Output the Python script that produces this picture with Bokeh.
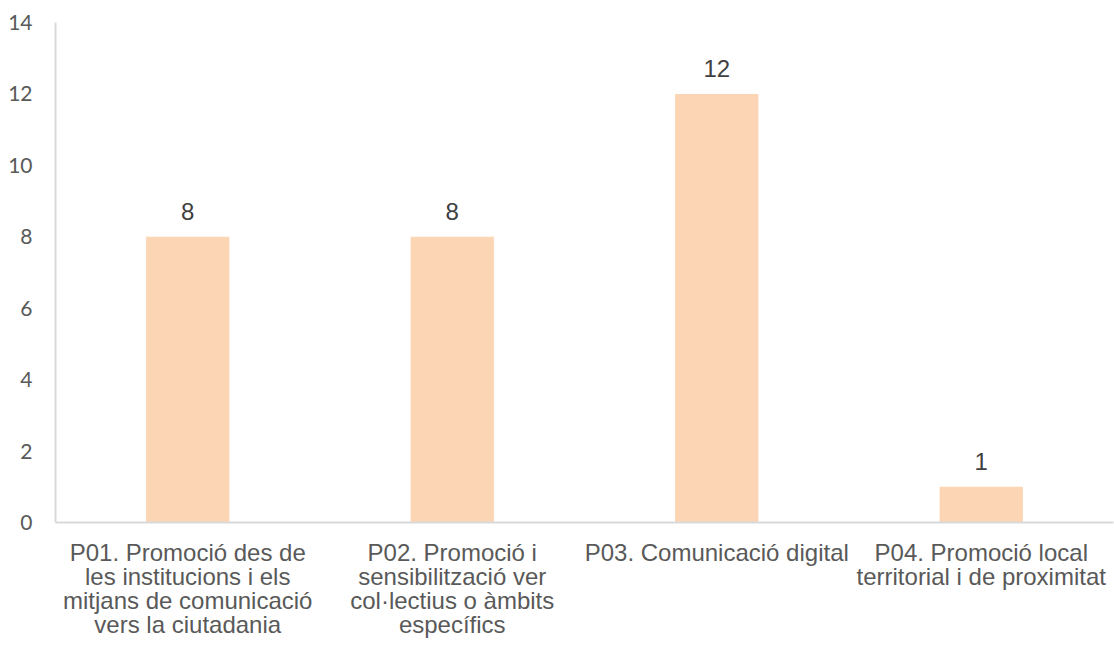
from bokeh.plotting import figure
from bokeh.models import ColumnDataSource, FixedTicker, FactorRange, Range1d
from bokeh.core.properties import value
from bokeh.embed import file_html
from bokeh.resources import INLINE

categories = [
    "P01. Promoció des de\nles institucions i els\nmitjans de comunicació\nvers la ciutadania",
    "P02. Promoció i\nsensibilització ver\ncol·lectius o àmbits\nespecífics",
    "P03. Comunicació digital",
    "P04. Promoció local\nterritorial i de proximitat",
]
counts = [8, 8, 12, 1]
y_ticks = [0, 2, 4, 6, 8, 10, 12, 14]

src = ColumnDataSource(dict(cat=categories, val=counts, lab=[str(v) for v in counts]))

p = figure(
    x_range=FactorRange(*categories, range_padding=0),
    y_range=Range1d(0, 14),
    width=1114, height=649,
    output_backend="svg", toolbar_location=None,
    min_border_left=55, min_border_right=1, min_border_top=22, min_border_bottom=127,
)
p.outline_line_color = None
p.background_fill_color = "white"
p.border_fill_color = "white"
p.xgrid.grid_line_color = None
p.ygrid.grid_line_color = None

p.vbar(x="cat", top="val", width=0.315, source=src, fill_color="#FCD5B5", line_color=None)

p.text(x="cat", y="val", text="lab", source=src, text_align="center", text_baseline="bottom",
       y_offset=-17, text_font=value("Liberation Sans"), text_font_size="24px", text_color="#404040")

ya = p.yaxis[0]
ya.ticker = FixedTicker(ticks=y_ticks)
ya.axis_line_color = "#D9D9D9"
ya.axis_line_width = 2
ya.major_tick_line_color = None
ya.minor_tick_line_color = None
ya.major_label_standoff = 17
ya.major_label_text_font = "Lato"
ya.major_label_text_font_size = "21px"
ya.major_label_text_color = "#595959"

xa = p.xaxis[0]
xa.axis_line_color = "#D9D9D9"
xa.axis_line_width = 2
xa.major_tick_line_color = None
xa.minor_tick_line_color = None
xa.major_label_standoff = 10
xa.major_label_text_font = "Liberation Sans"
xa.major_label_text_font_size = "24px"
xa.major_label_text_color = "#595959"
xa.major_label_text_line_height = 0.9

open("out.html", "w").write(file_html(p, INLINE))
